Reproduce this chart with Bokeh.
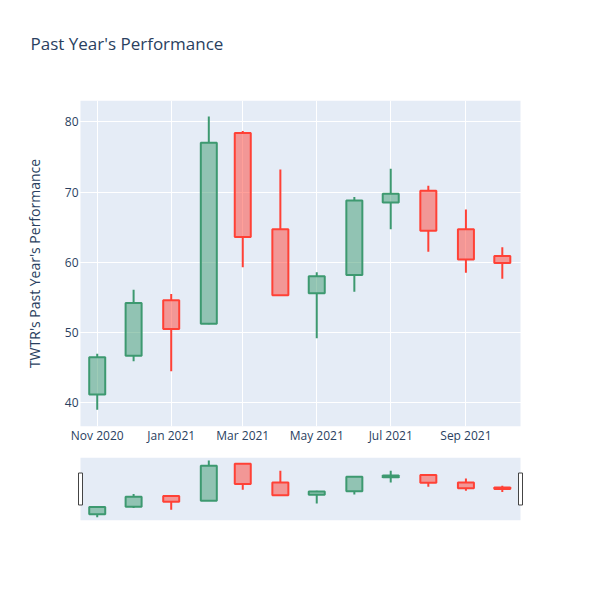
import pandas as pd
from bokeh.plotting import figure
from bokeh.models import Range1d, FixedTicker, DatetimeTickFormatter, ColumnDataSource
from bokeh.layouts import column
from bokeh.embed import file_html
from bokeh.resources import INLINE

# ---- data ----
dates = ["2020-11-01", "2020-12-01", "2021-01-01", "2021-02-01", "2021-03-01", "2021-04-01",
         "2021-05-01", "2021-06-01", "2021-07-01", "2021-08-01", "2021-09-01", "2021-10-01"]
open_ = [41.2, 46.7, 54.6, 51.25, 78.4, 64.7, 55.6, 58.2, 68.5, 70.2, 64.7, 60.9]
high = [47.0, 56.1, 55.5, 80.75, 78.7, 73.2, 58.6, 69.3, 73.3, 70.9, 67.5, 62.15]
low = [39.0, 45.9, 44.5, 51.2, 59.3, 55.2, 49.2, 55.8, 64.7, 61.5, 58.5, 57.65]
close = [46.5, 54.2, 50.5, 77.0, 63.6, 55.3, 58.0, 68.8, 69.75, 64.5, 60.4, 59.9]
tick_dates = ["2020-11-01", "2021-01-01", "2021-03-01", "2021-05-01", "2021-07-01", "2021-09-01"]
y_ticks = [40, 50, 60, 70, 80]

INC = "#3D9970"
DEC = "#FF4136"
TXT = "#2a3f5f"
BG = "#E5ECF6"
FONT = "Open Sans"

x = pd.to_datetime(dates)
inc = [c >= o for o, c in zip(open_, close)]
src = ColumnDataSource(dict(
    x=x,
    top=[max(o, c) for o, c in zip(open_, close)],
    bot=[min(o, c) for o, c in zip(open_, close)],
    high=high, low=low,
    color=[INC if i else DEC for i in inc],
))

DAY = 86400000
x_start = pd.Timestamp("2020-10-18 05:00")
x_end = pd.Timestamp("2021-10-16 00:00")
y_start, y_end = 36.63, 83.03
box_w = 13.2 * DAY

# frames are 4px wider on each side than the shaded area (room for slider handles)
ms_per_px = (x_end - x_start) / pd.Timedelta(milliseconds=1) / 440
pad = pd.Timedelta(milliseconds=4 * ms_per_px)
xr = Range1d(x_start - pad, x_end + pad)


def candles(fig):
    fig.quad(left=[x_start], right=[x_end], bottom=[y_start], top=[y_end],
             fill_color=BG, line_color=None, level="image")
    fig.segment(x0="x", x1="x", y0="low", y1="bot", line_color="color", line_width=2, source=src)
    fig.segment(x0="x", x1="x", y0="top", y1="high", line_color="color", line_width=2, source=src)
    fig.vbar(x="x", width=box_w, top="top", bottom="bot", fill_color="color", fill_alpha=0.5,
             line_color="color", line_width=2, source=src)


p = figure(width=584, height=456, x_axis_type="datetime",
           x_range=xr, y_range=Range1d(y_start, y_end),
           output_backend="svg", toolbar_location=None,
           min_border_left=76, min_border_right=60, min_border_top=100, min_border_bottom=30)
p.background_fill_color = "white"
p.border_fill_color = "white"
p.outline_line_color = None
candles(p)

p.title.text = "Past Year's Performance\n "
p.title.text_font = FONT
p.title.text_font_size = "17px"
p.title.text_font_style = "normal"
p.title.text_color = TXT
p.title.align = "left"
p.title.vertical_align = "bottom"
p.title.offset = -46
p.title.standoff = 46

p.xaxis.ticker = FixedTicker(ticks=[pd.Timestamp(d).value // 10**6 for d in tick_dates])
p.xaxis.formatter = DatetimeTickFormatter(months="%b %Y", days="%b %Y", years="%Y")
p.yaxis.ticker = FixedTicker(ticks=y_ticks)
for ax in (p.xaxis, p.yaxis):
    ax.axis_line_color = None
    ax.major_tick_line_color = None
    ax.minor_tick_line_color = None
    ax.major_tick_out = 0
    ax.major_tick_in = 0
    ax.minor_tick_out = 0
    ax.minor_tick_in = 0
    ax.major_label_text_font = FONT
    ax.major_label_text_font_size = "12px"
    ax.major_label_text_color = TXT
p.xaxis.major_label_standoff = 0
p.yaxis.major_label_standoff = -2
p.yaxis.axis_label = "TWTR's Past Year's Performance"
p.yaxis.axis_label_text_font = FONT
p.yaxis.axis_label_text_font_size = "14px"
p.yaxis.axis_label_text_font_style = "normal"
p.yaxis.axis_label_text_color = TXT
p.yaxis.axis_label_standoff = 18
p.grid.grid_line_color = "white"
p.grid.grid_line_width = 1
p.grid.level = "underlay"

# ---- range slider ----
s = figure(width=584, height=128, x_axis_type="datetime",
           x_range=xr, y_range=Range1d(y_start, y_end),
           output_backend="svg", toolbar_location=None,
           min_border_left=76, min_border_right=60, min_border_top=1, min_border_bottom=64)
s.background_fill_color = "white"
s.border_fill_color = "white"
s.outline_line_color = None
s.axis.visible = False
s.grid.visible = False
candles(s)
s.rect(x=[x_start, x_end], y=[(y_start + y_end) / 2] * 2, width=4, height=32,
       width_units="screen", height_units="screen", fill_color="white",
       line_color="#444444", line_width=1)

layout = column(p, s, spacing=0)
open("out.html", "w").write(file_html(layout, INLINE))
